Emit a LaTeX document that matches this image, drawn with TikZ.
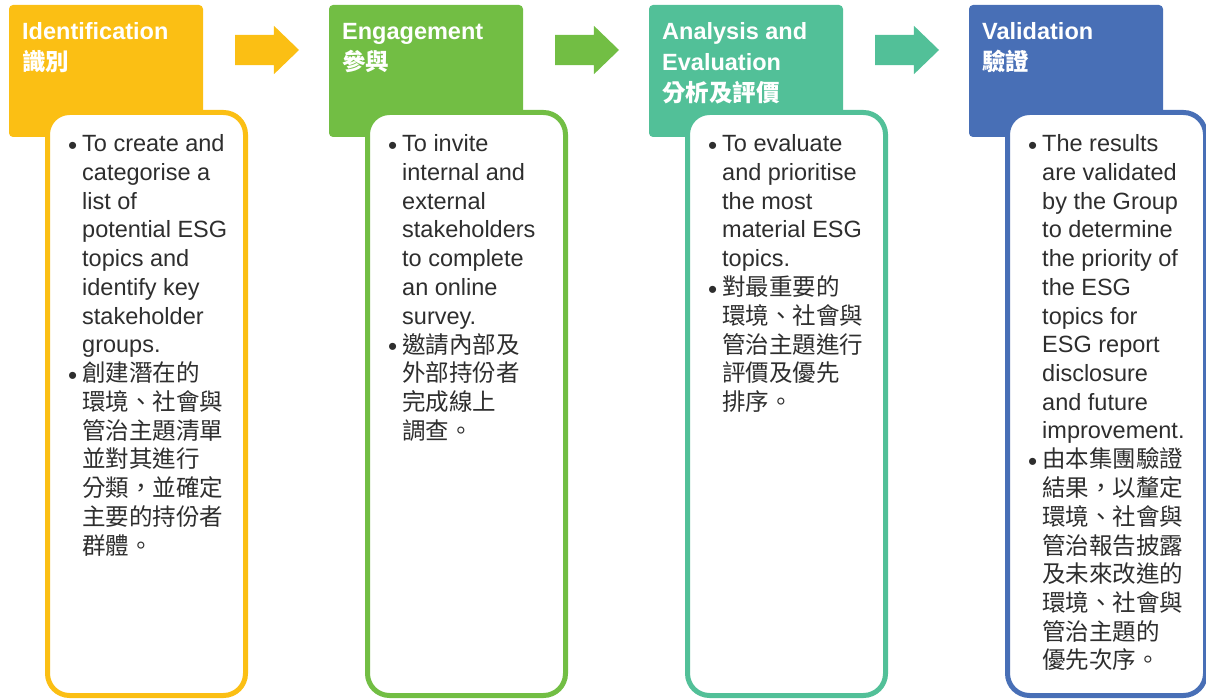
\documentclass[tikz,border=0pt]{standalone}
\usepackage{fontspec}
\setmainfont{Liberation Sans}
\newfontfamily\cjk{Noto Sans CJK TC}
\usetikzlibrary{calc,positioning,shapes.arrows}

\definecolor{cyel}{HTML}{FBBF14}
\definecolor{cgrn}{HTML}{72BE44}
\definecolor{ctea}{HTML}{52C098}
\definecolor{cblu}{HTML}{486FB6}
\definecolor{ctxt}{HTML}{2E2E2E}

\newcommand\blt{\raisebox{-2.5pt}{\normalfont\fontsize{26}{28.7}\selectfont\textbullet}}

\tikzset{
  head/.style={minimum width=194pt, minimum height=132pt, rounded corners=4pt,
    inner sep=0, outer sep=0},
  box/.style={fill=white, line width=5pt, minimum width=198pt, minimum height=583pt,
    rounded corners=22pt, inner sep=0, outer sep=0},
  ttl/.style={text=white, font=\bfseries\fontsize{23.5}{31}\selectfont, align=left,
    inner sep=0, anchor=north west},
  entxt/.style={text=ctxt, font=\fontsize{23.5}{28.7}\selectfont, inner sep=0,
    anchor=north west},
  zhtxt/.style={text=ctxt, font=\cjk\fontsize{23.5}{28.7}\selectfont, inner sep=0,
    anchor=north west},
  arr/.style={single arrow, minimum height=64pt, minimum width=48pt,
    single arrow head extend=9pt, single arrow tip angle=88, inner xsep=0,
    inner ysep=15pt, outer sep=0, anchor=tail}
}

\begin{document}
\begin{tikzpicture}[x=1pt, y=-1pt]
  \useasboundingbox (0,0) rectangle (1206,700);
  % headers and white boxes
  \foreach \i/\col/\ttl in {1/cyel/{Identification\\{\cjk 識別}},
      2/cgrn/{Engagement\\{\cjk 參與}},
      3/ctea/{Analysis and\\Evaluation\\{\cjk 分析及評價}},
      4/cblu/{Validation\\{\cjk 驗證}}}{
    \node[head, fill=\col] (head\i) at (106+320*\i-320, 71) {};
    \node[ttl] (title\i) at ($(head\i.north west)+(13,10)$) {\rule{0pt}{24pt}\ttl};
    \node[box, draw=\col] (box\i) at (146.5+320*\i-320, 404) {};
  }
  % arrows
  \foreach \i/\col in {1/cyel, 2/cgrn, 3/ctea}{
    \node[arr, fill=\col] (arr\i) at ($(head\i.north east)+(32,45)$) {};
  }

  \node[entxt] (en1) at ($(box1.north west)+(20.5,19.1)$) {%
    \begin{tabular}{@{}p{14pt}@{}l@{}}
    \blt & To create and\\
     & categorise a\\
     & list of\\
     & potential ESG\\
     & topics and\\
     & identify key\\
     & stakeholder\\
     & groups.
    \end{tabular}};
  \node[zhtxt] (zh1) at (en1.south west) {%
    \begin{tabular}{@{}p{14pt}@{}l@{}}
    \blt & 創建潛在的\\
     & 環境、社會與\\
     & 管治主題清單\\
     & 並對其進行\\
     & 分類，並確定\\
     & 主要的持份者\\
     & 群體。
    \end{tabular}};

  \node[entxt] (en2) at ($(box2.north west)+(20.5,19.1)$) {%
    \begin{tabular}{@{}p{14pt}@{}l@{}}
    \blt & To invite\\
     & internal and\\
     & external\\
     & stakeholders\\
     & to complete\\
     & an online\\
     & survey.
    \end{tabular}};
  \node[zhtxt] (zh2) at (en2.south west) {%
    \begin{tabular}{@{}p{14pt}@{}l@{}}
    \blt & 邀請內部及\\
     & 外部持份者\\
     & 完成線上\\
     & 調查。
    \end{tabular}};

  \node[entxt] (en3) at ($(box3.north west)+(20.5,19.1)$) {%
    \begin{tabular}{@{}p{14pt}@{}l@{}}
    \blt & To evaluate\\
     & and prioritise\\
     & the most\\
     & material ESG\\
     & topics.
    \end{tabular}};
  \node[zhtxt] (zh3) at (en3.south west) {%
    \begin{tabular}{@{}p{14pt}@{}l@{}}
    \blt & 對最重要的\\
     & 環境、社會與\\
     & 管治主題進行\\
     & 評價及優先\\
     & 排序。
    \end{tabular}};

  \node[entxt] (en4) at ($(box4.north west)+(20.5,19.1)$) {%
    \begin{tabular}{@{}p{14pt}@{}l@{}}
    \blt & The results\\
     & are validated\\
     & by the Group\\
     & to determine\\
     & the priority of\\
     & the ESG\\
     & topics for\\
     & ESG report\\
     & disclosure\\
     & and future\\
     & improvement.
    \end{tabular}};
  \node[zhtxt] (zh4) at (en4.south west) {%
    \begin{tabular}{@{}p{14pt}@{}l@{}}
    \blt & 由本集團驗證\\
     & 結果，以釐定\\
     & 環境、社會與\\
     & 管治報告披露\\
     & 及未來改進的\\
     & 環境、社會與\\
     & 管治主題的\\
     & 優先次序。
    \end{tabular}};
\end{tikzpicture}
\end{document}
